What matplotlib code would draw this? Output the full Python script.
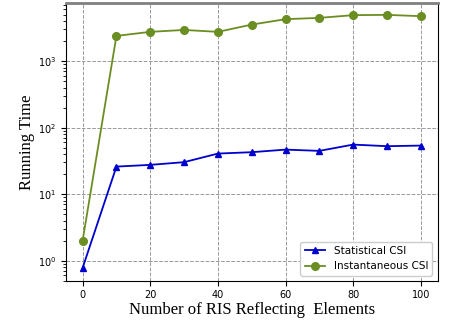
import matplotlib
matplotlib.use("Agg")
import matplotlib.pyplot as plt

# number of RIS elements
elements = [0, 10, 20, 30, 40, 50, 60, 70, 80, 90, 100]

# running time (log scale)
statistical_csi = [0.78, 26, 27.6, 30.3, 40.8, 42.8, 46.8, 44.8, 55.7, 52.7, 53.8]
instantaneous_csi = [2.0, 2400, 2760, 2950, 2760, 3550, 4280, 4480, 4920, 4970, 4750]

fig = plt.figure(figsize=(4.51, 3.21), dpi=100)
ax = fig.add_axes([0.1457, 0.1255, 0.8248, 0.8652])

ax.plot(elements, statistical_csi, color="#0000cd", marker="^", markersize=5,
        linewidth=1.3, label="Statistical CSI")
ax.plot(elements, instantaneous_csi, color="#6b8e23", marker="o", markersize=5.5,
        linewidth=1.3, label="Instantaneous CSI")

ax.set_yscale("log")
ax.set_ylim(0.5, 7500)
ax.set_xlim(-5, 105)
ax.set_xticks([0, 20, 40, 60, 80, 100])

ax.grid(True, which="major", linestyle="--", color="#999999", linewidth=0.7)
ax.tick_params(labelsize=7)

ax.set_xlabel("Number of RIS Reflecting  Elements", family="Liberation Serif",
              fontsize=12, labelpad=1)
ax.set_ylabel("Running Time", family="Liberation Serif", fontsize=12, labelpad=2)

ax.spines["top"].set_color("gray")
ax.spines["top"].set_linewidth(2)

ax.legend(loc="lower right", fontsize=7.5, framealpha=1)

fig.savefig("out.png", dpi=100)
